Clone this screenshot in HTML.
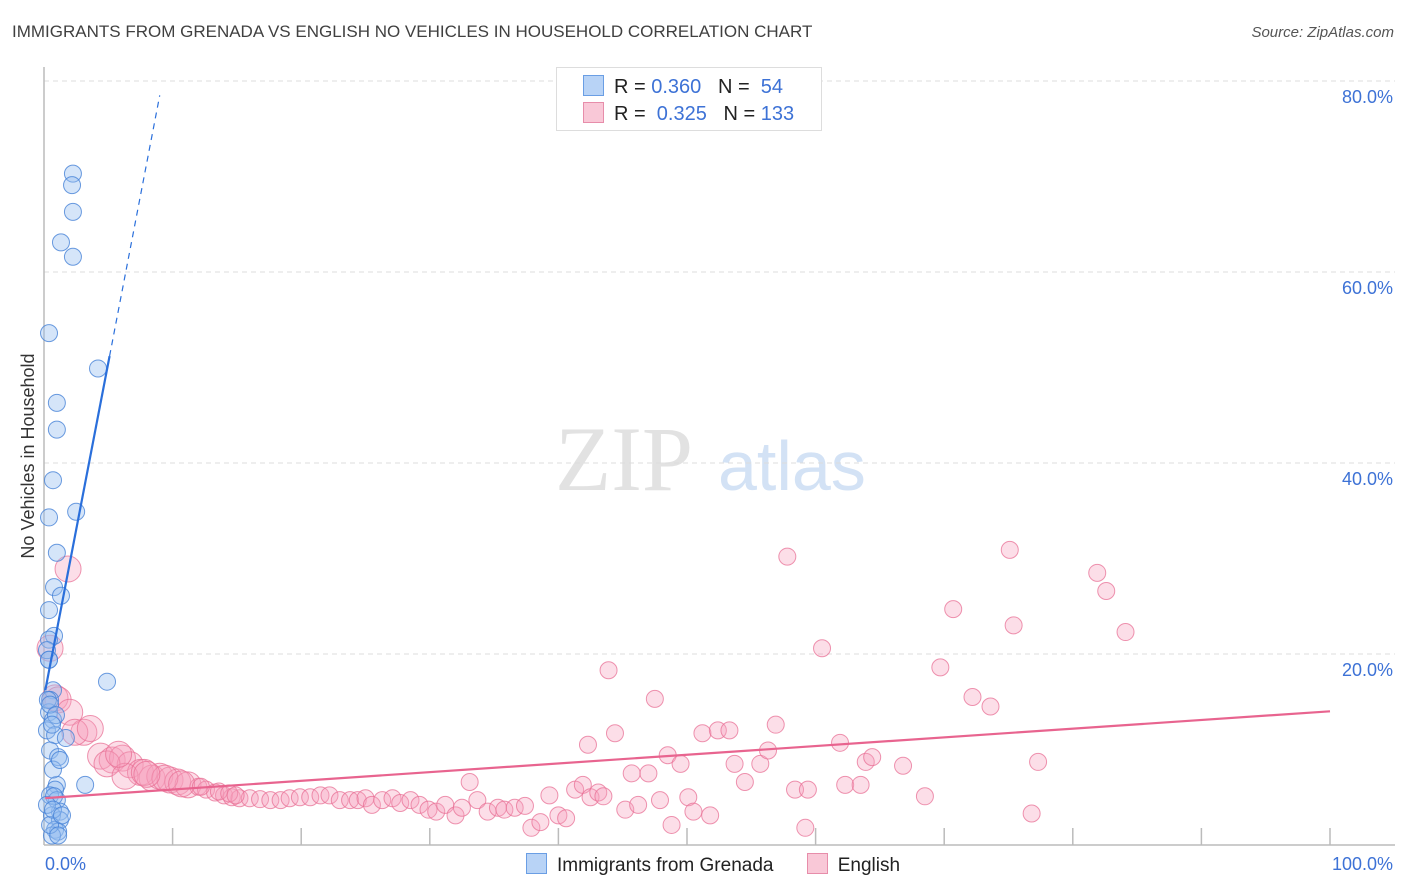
<!DOCTYPE html>
<html><head><meta charset="utf-8"><style>
body{margin:0;background:#fff;font-family:"Liberation Sans",sans-serif;}
#wrap{position:relative;width:1406px;height:892px;overflow:hidden;}
.t{position:absolute;white-space:nowrap;}
</style></head><body>
<div id="wrap">
<div class="t" style="left:12px;top:22px;font-size:17px;color:#404040;">IMMIGRANTS FROM GRENADA VS ENGLISH NO VEHICLES IN HOUSEHOLD CORRELATION CHART</div>
<div class="t" style="right:12px;top:24px;font-size:15px;color:#555;font-style:italic;">Source: ZipAtlas.com</div>
<svg id="plot" width="1406" height="892" style="position:absolute;left:0;top:0"></svg>
</div>
<script>
const xTickVals=[0,10,20,30,40,50,60,70,80,90,100];
const yTickVals=[20,40,60,80];
const yTickLabels=["20.0%","40.0%","60.0%","80.0%"];
const xEndLabels=["0.0%","100.0%"];
const blueX=[2.25,2.18,2.25,1.32,2.25,0.39,4.2,1.0,1.0,0.7,0.39,2.5,1.0,0.78,1.32,0.39,0.78,0.39,4.9,0.7,0.47,0.39,0.7,0.23,0.86,1.7,0.47,1.1,3.2,1.0,0.86,0.47,1.0,1.24,0.62,1.24,0.86,1.1,0.62,0.39,0.23,0.3,0.47,0.93,0.62,0.7,1.24,0.78,0.23,0.47,0.7,1.4,1.1,0.39];
const blueY=[70.3,69.1,66.3,63.1,61.6,53.6,49.9,46.3,43.5,38.2,34.3,34.9,30.6,27.0,26.1,24.6,21.9,19.4,17.1,16.2,15.2,13.9,13.1,12.0,11.5,11.2,9.9,9.2,6.3,6.3,5.8,5.2,4.7,3.5,3.1,2.6,1.6,1.4,1.0,21.5,20.4,15.2,14.7,13.6,12.6,7.9,8.9,5.1,4.2,2.1,3.7,3.1,1.0,19.4];
const pinkX=[1.87,0.47,0.86,1.1,2.0,3.1,4.4,5.3,6.1,6.7,7.5,8.4,9.0,9.8,10.4,11.2,12.0,12.6,13.3,14.0,14.6,15.2,16.0,16.8,17.6,18.4,19.1,19.9,20.7,21.5,22.2,23.0,23.8,24.4,25.0,25.5,26.3,27.1,27.7,28.5,29.2,29.9,30.5,31.2,32.0,32.5,33.1,33.7,34.5,35.3,35.8,36.6,37.4,37.9,38.6,39.3,40.0,40.6,41.3,41.9,42.5,43.1,43.5,43.9,42.3,44.4,45.2,45.7,46.2,47.0,47.5,47.9,48.5,48.8,49.5,50.1,50.5,51.2,51.8,52.4,53.3,53.7,54.5,55.7,56.3,56.9,57.8,58.4,59.2,59.4,60.5,61.9,62.3,63.5,63.9,64.4,66.8,68.5,69.7,70.7,72.2,73.6,75.1,75.4,76.8,77.3,81.9,82.6,84.1,2.4,4.9,6.3,7.8,9.4,10.7,12.2,13.6,14.4,14.9,5.8,8.0,3.6];
const pinkY=[28.9,20.6,15.4,15.2,13.9,11.8,9.3,8.9,9.1,8.4,7.6,7.0,7.2,6.8,6.6,6.3,6.1,5.8,5.5,5.2,5.0,4.9,4.9,4.8,4.7,4.7,4.9,5.0,5.0,5.2,5.2,4.7,4.7,4.7,4.9,4.2,4.7,4.9,4.4,4.7,4.2,3.7,3.5,4.2,3.1,3.9,6.6,4.7,3.5,3.9,3.7,3.9,4.1,1.8,2.4,5.2,3.1,2.8,5.8,6.3,5.0,5.5,5.1,18.3,10.5,11.7,3.7,7.5,4.2,7.5,15.3,4.7,9.4,2.1,8.5,5.0,3.5,11.7,3.1,12.0,12.0,8.5,6.6,8.5,9.9,12.6,30.2,5.8,1.8,5.8,20.6,10.7,6.3,6.3,8.7,9.2,8.3,5.1,18.6,24.7,15.5,14.5,30.9,23.0,3.3,8.7,28.5,26.6,22.3,11.8,8.5,7.2,7.6,7.0,6.4,6.1,5.6,5.4,5.2,9.5,7.4,12.2];
const blueTrend=[15.5,7.0]; // intercept, slope (%/%)
const pinkTrend=[4.9,14.0]; // y at x=0, y at x=100
const NS='http://www.w3.org/2000/svg';
const svg=document.getElementById('plot');
const X0=44,X1=1330,Y0=845,YPER=9.55;
const sx=v=>X0+(X1-X0)*v/100;
const sy=v=>Y0-v*YPER;
function mk(tag,attrs,parent){const e=document.createElementNS(NS,tag);for(const k in attrs)e.setAttribute(k,attrs[k]);(parent||svg).appendChild(e);return e;}
// watermark
let w=mk('text',{x:555,y:490,'font-size':92,'font-family':'Liberation Serif,serif',fill:'#e2e2e2'});w.textContent='ZIP';


let w2=mk('text',{x:718,y:490,'font-size':70,'font-family':'Liberation Sans,sans-serif',fill:'#d3e2f5'});w2.textContent='atlas';


// gridlines
yTickVals.forEach((v,i)=>{
 const g=mk('line',{x1:X0,x2:1395,y1:sy(v),y2:sy(v),stroke:'#dcdcdc','stroke-dasharray':'5,4'});
 
 
 const t=mk('text',{x:1393,y:sy(v)+22,'text-anchor':'end','font-size':18,fill:'#3d72d6'});t.textContent=yTickLabels[i];
 
 
});
// axes
let ax=mk('line',{x1:X0,x2:X0,y1:67,y2:Y0,stroke:'#bbb','stroke-width':1.5});


let bx=mk('line',{x1:X0,x2:1395,y1:Y0,y2:Y0,stroke:'#bbb','stroke-width':1.5});


xTickVals.forEach(v=>{if(v===0)return;
 const t=mk('line',{x1:sx(v),x2:sx(v),y1:Y0,y2:Y0-17,stroke:'#bbb','stroke-width':1.5});
 
 
});
[[0,'start',45],[100,'end',1393]].forEach((a,i)=>{
 const t=mk('text',{x:a[2],y:870,'text-anchor':a[1],'font-size':18,fill:'#3d72d6'});t.textContent=xEndLabels[i];
 
 
});
// y axis title
let yt=mk('text',{x:0,y:0,'font-size':18,fill:'#333',transform:'translate(34,456) rotate(-90)','text-anchor':'middle'});yt.textContent='No Vehicles in Household';


// pink points
pinkX.forEach((x,i)=>{
 const r=x<12?13:8.5;
 const c=mk('circle',{cx:sx(x),cy:sy(pinkY[i]),r:r,fill:'rgba(246,160,188,0.35)',stroke:'rgba(232,112,150,0.75)','stroke-width':1});
 
 
});
// blue points
blueX.forEach((x,i)=>{
 const c=mk('circle',{cx:sx(x),cy:sy(blueY[i]),r:8.5,fill:'rgba(150,190,240,0.4)',stroke:'rgba(70,130,215,0.8)','stroke-width':1});
 
 
});
// trend lines
let pl=mk('line',{x1:sx(0.1),y1:sy(pinkTrend[0]+(pinkTrend[1]-pinkTrend[0])*0.001),x2:sx(100),y2:sy(pinkTrend[1]),stroke:'#e8648f','stroke-width':2.2});


const bf=x=>blueTrend[0]+blueTrend[1]*x;
let bl=mk('line',{x1:sx(0.1),y1:sy(bf(0.1)),x2:sx(5.1),y2:sy(bf(5.1)),stroke:'#2a6fdb','stroke-width':2.2});


let bd=mk('line',{x1:sx(5.1),y1:sy(bf(5.1)),x2:sx(9.0),y2:sy(bf(9.0)),stroke:'#2a6fdb','stroke-width':1.2,'stroke-dasharray':'6,5'});


</script>
<div class="t" style="left:556px;top:67px;width:264px;height:62px;border:1px solid #ddd;background:#fff;font-size:20px;color:#222;">
 <div style="position:absolute;left:26px;top:7px;">
  <span style="display:inline-block;width:19px;height:19px;background:#b8d3f6;border:1px solid #6a9ee4;vertical-align:-3px;margin-right:10px;"></span>R = <span style="color:#3d72d6">0.360</span>&nbsp;&nbsp;&nbsp;N = &nbsp;<span style="color:#3d72d6">54</span></div>
 <div style="position:absolute;left:26px;top:34px;">
  <span style="display:inline-block;width:19px;height:19px;background:#f9c8d7;border:1px solid #e78daa;vertical-align:-3px;margin-right:10px;"></span>R = &nbsp;<span style="color:#3d72d6">0.325</span>&nbsp;&nbsp;&nbsp;N = <span style="color:#3d72d6">133</span></div>
</div>
<div class="t" style="left:526px;top:853px;font-size:19px;color:#222;">
 <span><span style="display:inline-block;width:19px;height:19px;background:#b8d3f6;border:1px solid #6a9ee4;vertical-align:-3px;margin-right:10px;"></span>Immigrants from Grenada</span>
 <span style="margin-left:28px;"><span style="display:inline-block;width:19px;height:19px;background:#f9c8d7;border:1px solid #e78daa;vertical-align:-3px;margin-right:10px;"></span>English</span>
</div>
</body></html>
